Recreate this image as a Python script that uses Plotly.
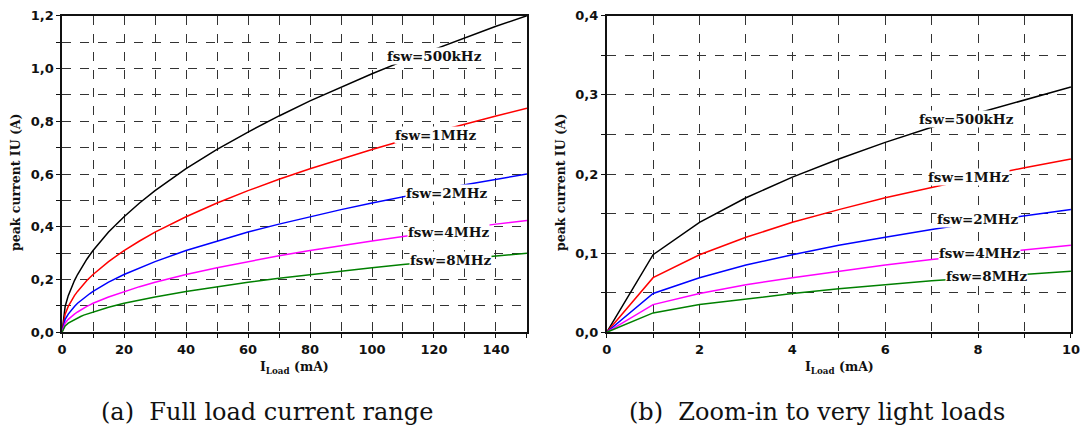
import plotly.graph_objects as go
from plotly.subplots import make_subplots

# Load current (mA) and peak inductor current (A) for each switching frequency
load_ma = [0, 1, 2, 3, 4, 5, 6, 7, 8, 9, 10, 15, 20, 25, 30,
           40, 50, 60, 70, 80, 90, 100, 110, 120, 130, 140, 150]

ipk_500k = [0, 0.098, 0.139, 0.170, 0.196, 0.219, 0.240, 0.259, 0.277, 0.294, 0.310,
            0.380, 0.438, 0.490, 0.537, 0.620, 0.693, 0.759, 0.820, 0.877, 0.930,
            0.980, 1.028, 1.073, 1.117, 1.160, 1.200]
ipk_1m = [0, 0.069, 0.098, 0.120, 0.139, 0.155, 0.170, 0.183, 0.196, 0.208, 0.219,
          0.268, 0.310, 0.346, 0.380, 0.438, 0.490, 0.537, 0.580, 0.620, 0.657,
          0.693, 0.727, 0.759, 0.790, 0.820, 0.849]
ipk_2m = [0, 0.049, 0.069, 0.085, 0.098, 0.110, 0.120, 0.130, 0.139, 0.147, 0.155,
          0.190, 0.219, 0.245, 0.268, 0.310, 0.346, 0.380, 0.410, 0.438, 0.465,
          0.490, 0.514, 0.537, 0.559, 0.580, 0.600]
ipk_4m = [0, 0.035, 0.049, 0.060, 0.069, 0.077, 0.085, 0.092, 0.098, 0.104, 0.110,
          0.134, 0.155, 0.173, 0.190, 0.219, 0.245, 0.268, 0.290, 0.310, 0.329,
          0.346, 0.363, 0.379, 0.395, 0.410, 0.424]
ipk_8m = [0, 0.0245, 0.035, 0.042, 0.049, 0.055, 0.060, 0.065, 0.069, 0.073, 0.077,
          0.095, 0.110, 0.122, 0.134, 0.155, 0.173, 0.190, 0.205, 0.219, 0.232,
          0.245, 0.257, 0.268, 0.279, 0.290, 0.300]

series_names = ["fsw=500kHz", "fsw=1MHz", "fsw=2MHz", "fsw=4MHz", "fsw=8MHz"]
series_values = [ipk_500k, ipk_1m, ipk_2m, ipk_4m, ipk_8m]
series_colors = ["#000000", "#ff0000", "#0000ff", "#ff00ff", "#008000"]

# Label anchor positions (data units) for the full-range and zoomed panels
label_pos_full = [(120.3, 1.047), (120.5, 0.748), (124.0, 0.528), (124.8, 0.380), (125.2, 0.274)]
label_pos_zoom = [(7.75, 0.2695), (7.80, 0.196), (7.99, 0.143), (8.04, 0.1006), (8.18, 0.071)]

ZOOM_N = 11  # points with load <= 10 mA

fig = make_subplots(rows=1, cols=2)

for name, vals, col in zip(series_names, series_values, series_colors):
    fig.add_trace(go.Scatter(x=load_ma, y=vals, mode="lines", name=name,
                             line=dict(color=col, width=1.5), showlegend=False),
                  row=1, col=1)
    fig.add_trace(go.Scatter(x=load_ma[:ZOOM_N], y=vals[:ZOOM_N], mode="lines", name=name,
                             line=dict(color=col, width=1.5), showlegend=False),
                  row=1, col=2)

tick_font = dict(family="DejaVu Sans", size=13, color="#111111", weight="bold")
grid_style = dict(showgrid=True, gridcolor="#333333", gridwidth=1, griddash="dash")
axis_common = dict(showline=True, linecolor="#111111", linewidth=1.5, mirror=True,
                   ticks="outside", ticklen=4, tickcolor="#111111", automargin=False,
                   tickfont=tick_font, zeroline=False, **grid_style)

fig.update_xaxes(domain=[0.0574, 0.4875], range=[0, 150], dtick=20, tick0=0,
                 minor=dict(dtick=10, tick0=0, ticks="outside", ticklen=4, **grid_style),
                 **axis_common, row=1, col=1)
fig.update_yaxes(domain=[0.2236, 0.9633], range=[0, 1.2], dtick=0.2, tick0=0, tickformat=".1f",
                 minor=dict(dtick=0.1, tick0=0, ticks="outside", ticklen=4, **grid_style),
                 **axis_common, row=1, col=1)
fig.update_xaxes(domain=[0.5612, 0.9907], range=[0, 10], dtick=2, tick0=0,
                 minor=dict(dtick=1, tick0=0, ticks="outside", ticklen=4, **grid_style),
                 **axis_common, row=1, col=2)
fig.update_yaxes(domain=[0.2236, 0.9633], range=[0, 0.4], dtick=0.1, tick0=0, tickformat=".1f",
                 minor=dict(dtick=0.05, tick0=0, ticks="outside", ticklen=4, **grid_style),
                 **axis_common, row=1, col=2)

label_font = dict(family="DejaVu Serif", size=13.5, color="#111111")
for (name, (x, y)) in zip(series_names, label_pos_full):
    fig.add_annotation(x=x, y=y, xref="x", yref="y", text="<b>%s</b>" % name,
                       xanchor="center", yanchor="middle",
                       showarrow=False, font=label_font, bgcolor="white", borderpad=0)
for (name, (x, y)) in zip(series_names, label_pos_zoom):
    fig.add_annotation(x=x, y=y, xref="x2", yref="y2", text="<b>%s</b>" % name,
                       xanchor="center", yanchor="middle",
                       showarrow=False, font=label_font, bgcolor="white", borderpad=0)

# Axis titles
title_font = dict(family="DejaVu Serif", size=12.5, color="#111111")
for xc in [15 / 1081, 560 / 1081]:
    fig.add_annotation(x=xc, y=1 - 183 / 428, xref="paper", yref="paper",
                       text="<b>peak current IU (A)</b>",
                       xanchor="center", yanchor="middle",
                       textangle=-90, showarrow=False, font=title_font)
for xc in [294 / 1081, 839 / 1081]:
    fig.add_annotation(x=xc, y=1 - 367 / 428, xref="paper", yref="paper",
                       xanchor="center", yanchor="middle",
                       text="<b>I<sub>Load</sub> (mA)</b>", showarrow=False, font=title_font)

# Panel captions
cap_font = dict(family="DejaVu Serif", size=24, color="#111111")
fig.add_annotation(x=267 / 1081, y=1 - 412 / 428, xref="paper", yref="paper",
                   xanchor="center", yanchor="middle",
                   text="(a)  Full load current range", showarrow=False, font=cap_font)
fig.add_annotation(x=817 / 1081, y=1 - 412 / 428, xref="paper", yref="paper",
                   xanchor="center", yanchor="middle",
                   text="(b)  Zoom-in to very light loads", showarrow=False, font=cap_font)

fig.update_layout(width=1081, height=428, margin=dict(l=0, r=0, t=0, b=0),
                  paper_bgcolor="white", plot_bgcolor="white", separators=",.")

fig.write_html("out.html")
